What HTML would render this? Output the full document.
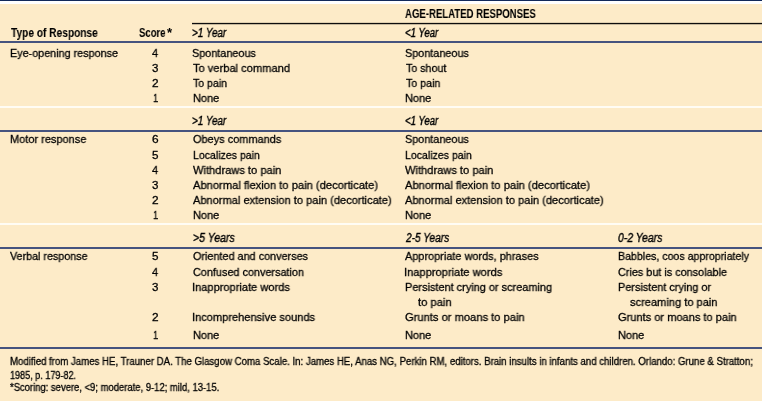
<!DOCTYPE html><html><head><meta charset="utf-8"><title>Glasgow Coma Scale</title><style>
html,body{margin:0;padding:0}body{width:762px;height:401px;background:#FDEBC8;position:relative;overflow:hidden;font-family:"Liberation Sans",Arial,sans-serif;color:#1a1a1a}
.t{position:absolute;white-space:pre;transform-origin:0 0}.r{font-size:11.5px;line-height:11.5px}.b{font-weight:bold;font-size:12px;line-height:12px}.i{font-style:italic;font-size:12px;line-height:12px}.f{font-size:10px;line-height:10px}
.l{position:absolute;left:0;width:762px}
.t{color:#000;will-change:transform;-webkit-text-stroke:0.3px #000}.b{-webkit-text-stroke:0.05px #000}.i{-webkit-text-stroke:0.4px #000}

</style></head><body>
<div class="l" style="top:0;height:1px;background:#12295a"></div>
<div class="l" style="top:1px;height:3px;background:#fff"></div>
<div class="l" style="top:23px;left:192px;width:570px;height:1px;background:#0d0d0d;box-shadow:0 1px 0 rgba(0,0,0,.22),0 -1px 0 rgba(0,0,0,.12)"></div>
<div class="l" style="top:41px;height:2px;background:#45537f"></div>
<div class="l" style="top:130px;height:2px;background:#45537f"></div>
<div class="l" style="top:247px;height:2px;background:#45537f"></div>
<div class="l" style="top:347px;height:2px;background:#45537f"></div>
<div class="l" style="top:106px;height:2px;background:#fffcf4"></div>
<div class="l" style="top:223px;height:2px;background:#fffcf4"></div>
<div class="t b" style="left:404.66px;top:8px;transform:scaleX(0.7989)">AGE-RELATED RESPONSES</div>
<div class="t b" style="left:10.50px;top:27px;transform:scaleX(0.8472)">Type of Response</div>
<div class="t b" style="left:138.99px;top:27px;transform:scaleX(0.7933)">Score</div>
<div class="t b" style="left:167.24px;top:27px;transform:scaleX(1.0896)">*</div>
<div class="t i" style="left:192.34px;top:27px;transform:scaleX(0.8248)">&gt;1 Year</div>
<div class="t i" style="left:405.08px;top:27px;transform:scaleX(0.8010)">&lt;1 Year</div>
<div class="t r" style="left:9.55px;top:48px;transform:scaleX(0.9380)">Eye-opening response</div>
<div class="t r" style="left:152.00px;top:48px;transform:scaleX(0.9375)">4</div>
<div class="t r" style="left:151.52px;top:63px;transform:scaleX(1.0024)">3</div>
<div class="t r" style="left:151.67px;top:78px;transform:scaleX(1.0259)">2</div>
<div class="t r" style="left:153.03px;top:93px;transform:scaleX(0.8173)">1</div>
<div class="t r" style="left:192.44px;top:48px;transform:scaleX(0.9421)">Spontaneous</div>
<div class="t r" style="left:193.00px;top:63px;transform:scaleX(0.9670)">To verbal command</div>
<div class="t r" style="left:193.00px;top:78px;transform:scaleX(0.9164)">To pain</div>
<div class="t r" style="left:192.79px;top:93px;transform:scaleX(0.9571)">None</div>
<div class="t r" style="left:404.96px;top:48px;transform:scaleX(0.9421)">Spontaneous</div>
<div class="t r" style="left:405.50px;top:63px;transform:scaleX(0.9284)">To shout</div>
<div class="t r" style="left:405.50px;top:78px;transform:scaleX(0.9245)">To pain</div>
<div class="t r" style="left:405.27px;top:93px;transform:scaleX(0.9571)">None</div>
<div class="t i" style="left:192.36px;top:115px;transform:scaleX(0.8248)">&gt;1 Year</div>
<div class="t i" style="left:405.08px;top:115px;transform:scaleX(0.8010)">&lt;1 Year</div>
<div class="t r" style="left:9.54px;top:134px;transform:scaleX(0.9560)">Motor response</div>
<div class="t r" style="left:151.58px;top:134px;transform:scaleX(1.0329)">6</div>
<div class="t r" style="left:151.59px;top:150px;transform:scaleX(1.0135)">5</div>
<div class="t r" style="left:152.00px;top:165px;transform:scaleX(0.9375)">4</div>
<div class="t r" style="left:151.52px;top:180px;transform:scaleX(1.0024)">3</div>
<div class="t r" style="left:151.67px;top:195px;transform:scaleX(1.0259)">2</div>
<div class="t r" style="left:153.03px;top:210px;transform:scaleX(0.8173)">1</div>
<div class="t r" style="left:193.09px;top:134px;transform:scaleX(0.9521)">Obeys commands</div>
<div class="t r" style="left:192.53px;top:150px;transform:scaleX(0.9168)">Localizes pain</div>
<div class="t r" style="left:193.48px;top:165px;transform:scaleX(0.9671)">Withdraws to pain</div>
<div class="t r" style="left:193.48px;top:180px;transform:scaleX(0.9711)">Abnormal flexion to pain (decorticate)</div>
<div class="t r" style="left:193.48px;top:195px;transform:scaleX(0.9620)">Abnormal extension to pain (decorticate)</div>
<div class="t r" style="left:192.79px;top:210px;transform:scaleX(0.9571)">None</div>
<div class="t r" style="left:404.96px;top:134px;transform:scaleX(0.9421)">Spontaneous</div>
<div class="t r" style="left:404.53px;top:150px;transform:scaleX(0.9168)">Localizes pain</div>
<div class="t r" style="left:405.48px;top:165px;transform:scaleX(0.9671)">Withdraws to pain</div>
<div class="t r" style="left:405.48px;top:180px;transform:scaleX(0.9711)">Abnormal flexion to pain (decorticate)</div>
<div class="t r" style="left:405.48px;top:195px;transform:scaleX(0.9620)">Abnormal extension to pain (decorticate)</div>
<div class="t r" style="left:405.27px;top:210px;transform:scaleX(0.9571)">None</div>
<div class="t i" style="left:192.58px;top:232px;transform:scaleX(0.8794)">&gt;5 Years</div>
<div class="t i" style="left:405.87px;top:232px;transform:scaleX(0.8429)">2-5 Years</div>
<div class="t i" style="left:618.26px;top:232px;transform:scaleX(0.8661)">0-2 Years</div>
<div class="t r" style="left:9.50px;top:251px;transform:scaleX(0.9326)">Verbal response</div>
<div class="t r" style="left:151.59px;top:251px;transform:scaleX(1.0135)">5</div>
<div class="t r" style="left:152.00px;top:267px;transform:scaleX(0.9375)">4</div>
<div class="t r" style="left:151.52px;top:282px;transform:scaleX(1.0024)">3</div>
<div class="t r" style="left:151.67px;top:312px;transform:scaleX(1.0259)">2</div>
<div class="t r" style="left:153.03px;top:330px;transform:scaleX(0.8173)">1</div>
<div class="t r" style="left:192.61px;top:251px;transform:scaleX(0.9422)">Oriented and converses</div>
<div class="t r" style="left:192.56px;top:267px;transform:scaleX(0.9437)">Confused conversation</div>
<div class="t r" style="left:192.46px;top:282px;transform:scaleX(0.9626)">Inappropriate words</div>
<div class="t r" style="left:192.46px;top:312px;transform:scaleX(0.9627)">Incomprehensive sounds</div>
<div class="t r" style="left:192.79px;top:330px;transform:scaleX(0.9571)">None</div>
<div class="t r" style="left:405.02px;top:251px;transform:scaleX(0.9499)">Appropriate words, phrases</div>
<div class="t r" style="left:404.48px;top:267px;transform:scaleX(0.9668)">Inappropriate words</div>
<div class="t r" style="left:404.77px;top:282px;transform:scaleX(0.9512)">Persistent crying or screaming</div>
<div class="t r" style="left:418.24px;top:297px;transform:scaleX(0.9738)">to pain</div>
<div class="t r" style="left:405.29px;top:312px;transform:scaleX(0.9699)">Grunts or moans to pain</div>
<div class="t r" style="left:405.27px;top:330px;transform:scaleX(0.9571)">None</div>
<div class="t r" style="left:617.55px;top:251px;transform:scaleX(0.9232)">Babbles, coos appropriately</div>
<div class="t r" style="left:618.04px;top:267px;transform:scaleX(0.9421)">Cries but is consolable</div>
<div class="t r" style="left:617.77px;top:282px;transform:scaleX(0.9454)">Persistent crying or</div>
<div class="t r" style="left:629.83px;top:297px;transform:scaleX(0.9641)">screaming to pain</div>
<div class="t r" style="left:618.29px;top:312px;transform:scaleX(0.9618)">Grunts or moans to pain</div>
<div class="t r" style="left:617.79px;top:330px;transform:scaleX(0.9571)">None</div>
<div class="t f" style="left:9.55px;top:357px;transform:scaleX(0.9632)">Modified from James HE, Trauner DA. The Glasgow Coma Scale. In: James HE, Anas NG, Perkin RM, editors. Brain insults in infants and children. Orlando: Grune &amp; Stratton;</div>
<div class="t f" style="left:9.61px;top:371px;transform:scaleX(0.9068)">1985, p. 179-82.</div>
<div class="t f" style="left:10.00px;top:383px;transform:scaleX(0.9447)">*Scoring: severe, &lt;9; moderate, 9-12; mild, 13-15.</div>
</body></html>
